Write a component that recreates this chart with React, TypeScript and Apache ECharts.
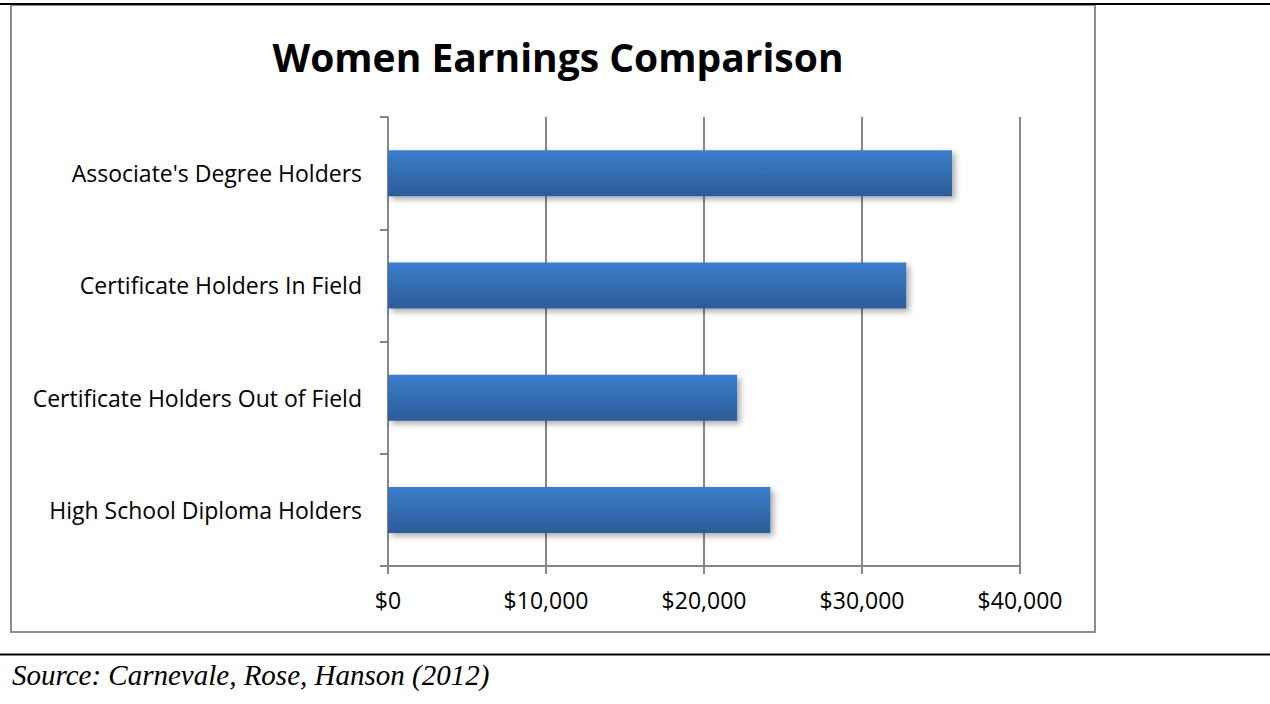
import React, { useEffect, useRef } from "react";
import * as echarts from "echarts";

const categories = [
  "Associate's Degree Holders",
  "Certificate Holders In Field",
  "Certificate Holders Out of Field",
  "High School Diploma Holders",
];
const earnings = [35700, 32800, 22100, 24200];
const titleText = "Women Earnings Comparison";
const sourceText = "Source: Carnevale, Rose, Hanson (2012)";

export default function App() {
  const ref = useRef<HTMLDivElement>(null);
  useEffect(() => {
    if (!ref.current) return;
    const chart = echarts.init(ref.current, null, { renderer: "svg" });
    const gray = "#878787";
    chart.setOption({
      animation: false,
      backgroundColor: "#ffffff",
      grid: { left: 388, right: 250, top: 117, bottom: 138, containLabel: false },
      xAxis: {
        type: "value",
        min: 0,
        max: 40000,
        interval: 10000,
        axisLine: { show: true, lineStyle: { color: gray, width: 2 } },
        axisTick: { show: true, length: 8, lineStyle: { color: gray, width: 2 } },
        splitLine: { show: true, lineStyle: { color: gray, width: 2 } },
        axisLabel: {
          margin: 22,
          color: "#000",
          fontFamily: "Open Sans",
          fontSize: 23,
          formatter: (v: number) => "$" + v.toLocaleString("en-US"),
        },
      },
      yAxis: {
        type: "category",
        inverse: true,
        data: categories,
        axisLine: { show: true, lineStyle: { color: gray, width: 2 } },
        axisTick: { show: true, length: 8, alignWithLabel: false, lineStyle: { color: gray, width: 2 } },
        axisLabel: {
          margin: 26,
          color: "#000",
          fontFamily: "Open Sans",
          fontSize: 23,
        },
      },
      series: [
        {
          type: "bar",
          data: earnings,
          barWidth: 46,
          itemStyle: {
            color: new echarts.graphic.LinearGradient(0, 0, 0, 1, [
              { offset: 0, color: "#3b7ecc" },
              { offset: 1, color: "#2c5c98" },
            ]),
            shadowBlur: 6,
            shadowOffsetX: 3,
            shadowOffsetY: 3,
            shadowColor: "rgba(0,0,0,0.35)",
          },
        },
      ],
      graphic: [
        {
          type: "rect",
          shape: { x: 11, y: 5, width: 1084, height: 627 },
          style: { fill: "none", stroke: "#8c8c8c", lineWidth: 2 },
          z: 1,
        },
        {
          type: "line",
          shape: { x1: 0, y1: 4, x2: 1270, y2: 4 },
          style: { stroke: "#000", lineWidth: 2 },
          z: 2,
        },
        {
          type: "line",
          shape: { x1: 0, y1: 654.5, x2: 1270, y2: 654.5 },
          style: { stroke: "#000", lineWidth: 2 },
          z: 2,
        },
        {
          type: "text",
          x: 558,
          y: 56,
          style: {
            text: titleText,
            fill: "#000",
            font: "bold 39px 'Open Sans'",
            textAlign: "center",
            textVerticalAlign: "middle",
          },
        },
        {
          type: "text",
          x: 12,
          y: 675,
          style: {
            text: sourceText,
            fill: "#000",
            font: "italic 29px 'Liberation Serif'",
            textAlign: "left",
            textVerticalAlign: "middle",
          },
        },
      ],
    });
    return () => chart.dispose();
  }, []);
  return (
    <div
      ref={ref}
      style={{ position: "fixed", left: 0, top: 0, width: 1270, height: 704 }}
    />
  );
}
